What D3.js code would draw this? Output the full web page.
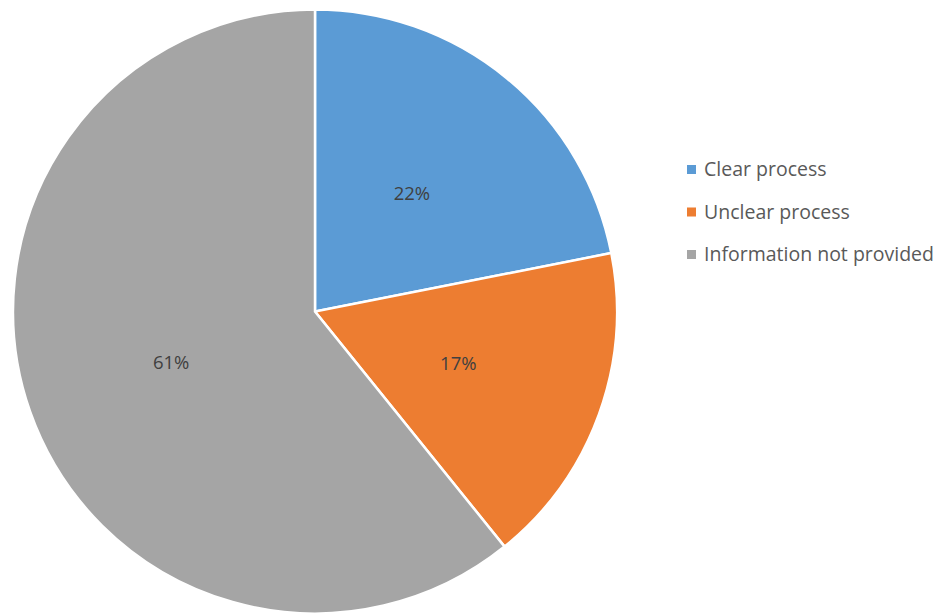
<!DOCTYPE html>
<html>
<head>
<meta charset="utf-8">
<script src="https://cdn.jsdelivr.net/npm/d3@7"></script>
<style>
  body { margin: 0; background: #fff; }
</style>
</head>
<body>
<div id="chart"></div>
<script>
var categories = ["Clear process", "Unclear process", "Information not provided"];
var values = [21.9, 17.3, 60.8];
var colors = ["#5b9bd5", "#ed7d31", "#a5a5a5"];

var width = 943, height = 613;
var cx = 315, cy = 311.5, radius = 302;

var svg = d3
  .select("#chart")
  .append("svg")
  .attr("width", width)
  .attr("height", height);

var data = categories.map(function (c, i) {
  return { name: c, value: values[i], color: colors[i] };
});

var pie = d3.pie().sort(null).value(function (d) { return d.value; });
var arc = d3.arc().innerRadius(0).outerRadius(radius);
var labelArc = d3.arc().innerRadius(radius * 0.505).outerRadius(radius * 0.505);

var g = svg.append("g").attr("transform", "translate(" + cx + "," + cy + ")");

var slices = g.selectAll(null).data(pie(data)).enter();

slices
  .append("path")
  .attr("d", arc)
  .style("fill", function (d) { return d.data.color; })
  .style("stroke", "#fff")
  .style("stroke-width", 2.5)
  .style("stroke-linejoin", "miter");

var total = d3.sum(values);
slices
  .append("text")
  .attr("transform", function (d) { return "translate(" + labelArc.centroid(d) + ")"; })
  .attr("text-anchor", "middle")
  .attr("dy", "0.35em")
  .style("font-family", "'Open Sans', sans-serif")
  .style("font-size", "18.5px")
  .style("fill", "#404040")
  .text(function (d) { return Math.round((d.data.value / total) * 100) + "%"; });

var legend = svg.append("g").attr("transform", "translate(687,169.5)");
var item = legend
  .selectAll(null)
  .data(data)
  .enter()
  .append("g")
  .attr("transform", function (d, i) { return "translate(0," + i * 42.5 + ")"; });

item
  .append("rect")
  .attr("x", 0)
  .attr("y", -4.5)
  .attr("width", 9)
  .attr("height", 9)
  .style("fill", function (d) { return d.color; });

item
  .append("text")
  .attr("x", 17)
  .attr("dy", "0.35em")
  .style("font-family", "'Open Sans', sans-serif")
  .style("font-size", "19.5px")
  .style("fill", "#595959")
  .text(function (d) { return d.name; });
</script>
</body>
</html>
